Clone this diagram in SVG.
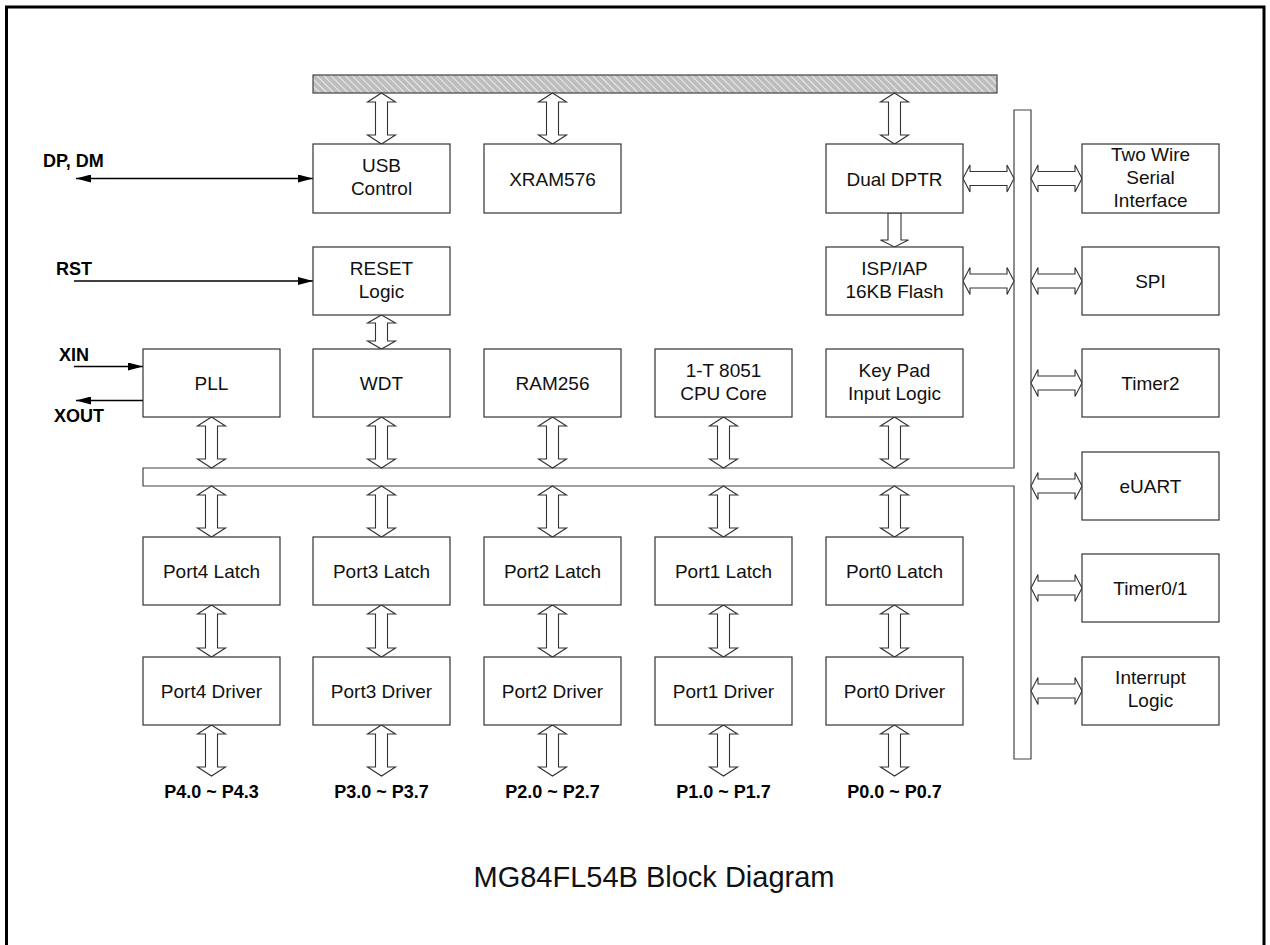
<svg xmlns="http://www.w3.org/2000/svg" width="1270" height="945" viewBox="0 0 1270 945">
<defs>
<style>
.box{fill:#fff;stroke:#333;stroke-width:1.2}
.t{font-family:"Liberation Sans",Arial,sans-serif;font-size:19px;fill:#111;text-anchor:middle}
.b{font-family:"Liberation Sans",Arial,sans-serif;font-size:18px;font-weight:bold;fill:#000}
.bc{text-anchor:middle}
.ba{fill:#fff;stroke:#333;stroke-width:1.1;stroke-linejoin:miter}
.sig{stroke:#000;stroke-width:1.7;fill:none}
.bus{fill:#fff;stroke:#444;stroke-width:1.2}
</style>
<pattern id="hatch" patternUnits="userSpaceOnUse" width="5" height="5" patternTransform="rotate(-45)">
<rect width="5" height="5" fill="#bdbdbd"/>
<line x1="0" y1="0" x2="0" y2="5" stroke="#ececec" stroke-width="2"/>
</pattern>
<marker id="ah" viewBox="0 0 15 8" refX="15" refY="4" markerWidth="15" markerHeight="8" markerUnits="userSpaceOnUse" orient="auto-start-reverse">
<path d="M0,0 L15,4 L0,8 Z" fill="#000"/>
</marker>
</defs>
<rect width="1270" height="945" fill="#fff"/>
<rect x="6.5" y="7" width="1257.5" height="1000" fill="none" stroke="#000" stroke-width="3"/>

<g id="buses">
<rect id="topbus" x="313" y="75" width="684" height="18" fill="url(#hatch)" stroke="#444" stroke-width="1.2"/>
<path id="midbus" class="bus" d="M1014,110 H1031 V759 H1014 V486 H143 V468 H1014 Z"/>
</g>

<g id="connectors">
<!-- signal lines -->
<line class="sig" x1="76" y1="178.5" x2="313" y2="178.5" marker-start="url(#ah)" marker-end="url(#ah)"/>
<line class="sig" x1="74" y1="281" x2="313" y2="281" marker-end="url(#ah)"/>
<line class="sig" x1="74" y1="366.5" x2="143" y2="366.5" marker-end="url(#ah)"/>
<line class="sig" x1="143" y1="400.5" x2="76" y2="400.5" marker-end="url(#ah)"/>
<!-- top bus to row1 -->
<polygon class="ba" points="381.5,93 395.5,102 387.5,102 387.5,135 395.5,135 381.5,144 367.5,135 375.5,135 375.5,102 367.5,102"/>
<polygon class="ba" points="552.5,93 566.5,102 558.5,102 558.5,135 566.5,135 552.5,144 538.5,135 546.5,135 546.5,102 538.5,102"/>
<polygon class="ba" points="894.5,93 908.5,102 900.5,102 900.5,135 908.5,135 894.5,144 880.5,135 888.5,135 888.5,102 880.5,102"/>
<!-- DPTR to ISP -->
<polygon class="ba" points="888,213 901,213 901,240 908.5,240 894.5,247 880.5,240 888,240"/>
<!-- RESET to WDT -->
<polygon class="ba" points="381.5,315 395.5,323 387.5,323 387.5,341 395.5,341 381.5,349 367.5,341 375.5,341 375.5,323 367.5,323"/>
<!-- row3 to mid bus -->
<polygon class="ba" points="211.5,417 225.5,426 217.5,426 217.5,459 225.5,459 211.5,468 197.5,459 205.5,459 205.5,426 197.5,426"/>
<polygon class="ba" points="381.5,417 395.5,426 387.5,426 387.5,459 395.5,459 381.5,468 367.5,459 375.5,459 375.5,426 367.5,426"/>
<polygon class="ba" points="552.5,417 566.5,426 558.5,426 558.5,459 566.5,459 552.5,468 538.5,459 546.5,459 546.5,426 538.5,426"/>
<polygon class="ba" points="723.5,417 737.5,426 729.5,426 729.5,459 737.5,459 723.5,468 709.5,459 717.5,459 717.5,426 709.5,426"/>
<polygon class="ba" points="894.5,417 908.5,426 900.5,426 900.5,459 908.5,459 894.5,468 880.5,459 888.5,459 888.5,426 880.5,426"/>
<!-- mid bus to latches -->
<polygon class="ba" points="211.5,486 225.5,495 217.5,495 217.5,528 225.5,528 211.5,537 197.5,528 205.5,528 205.5,495 197.5,495"/>
<polygon class="ba" points="381.5,486 395.5,495 387.5,495 387.5,528 395.5,528 381.5,537 367.5,528 375.5,528 375.5,495 367.5,495"/>
<polygon class="ba" points="552.5,486 566.5,495 558.5,495 558.5,528 566.5,528 552.5,537 538.5,528 546.5,528 546.5,495 538.5,495"/>
<polygon class="ba" points="723.5,486 737.5,495 729.5,495 729.5,528 737.5,528 723.5,537 709.5,528 717.5,528 717.5,495 709.5,495"/>
<polygon class="ba" points="894.5,486 908.5,495 900.5,495 900.5,528 908.5,528 894.5,537 880.5,528 888.5,528 888.5,495 880.5,495"/>
<!-- latches to drivers -->
<polygon class="ba" points="211.5,605 225.5,614 217.5,614 217.5,648 225.5,648 211.5,657 197.5,648 205.5,648 205.5,614 197.5,614"/>
<polygon class="ba" points="381.5,605 395.5,614 387.5,614 387.5,648 395.5,648 381.5,657 367.5,648 375.5,648 375.5,614 367.5,614"/>
<polygon class="ba" points="552.5,605 566.5,614 558.5,614 558.5,648 566.5,648 552.5,657 538.5,648 546.5,648 546.5,614 538.5,614"/>
<polygon class="ba" points="723.5,605 737.5,614 729.5,614 729.5,648 737.5,648 723.5,657 709.5,648 717.5,648 717.5,614 709.5,614"/>
<polygon class="ba" points="894.5,605 908.5,614 900.5,614 900.5,648 908.5,648 894.5,657 880.5,648 888.5,648 888.5,614 880.5,614"/>
<!-- drivers to pins -->
<polygon class="ba" points="211.5,725 225.5,734 217.5,734 217.5,767 225.5,767 211.5,776 197.5,767 205.5,767 205.5,734 197.5,734"/>
<polygon class="ba" points="381.5,725 395.5,734 387.5,734 387.5,767 395.5,767 381.5,776 367.5,767 375.5,767 375.5,734 367.5,734"/>
<polygon class="ba" points="552.5,725 566.5,734 558.5,734 558.5,767 566.5,767 552.5,776 538.5,767 546.5,767 546.5,734 538.5,734"/>
<polygon class="ba" points="723.5,725 737.5,734 729.5,734 729.5,767 737.5,767 723.5,776 709.5,767 717.5,767 717.5,734 709.5,734"/>
<polygon class="ba" points="894.5,725 908.5,734 900.5,734 900.5,767 908.5,767 894.5,776 880.5,767 888.5,767 888.5,734 880.5,734"/>
<!-- horizontal: left boxes to vertical bus -->
<polygon class="ba" points="963,178.5 970,165 970,171.5 1007,171.5 1007,165 1014,178.5 1007,192 1007,185.5 970,185.5 970,192"/>
<polygon class="ba" points="963,281 970,267.5 970,274 1007,274 1007,267.5 1014,281 1007,294.5 1007,288 970,288 970,294.5"/>
<!-- horizontal: vertical bus to right boxes -->
<polygon class="ba" points="1031,178.5 1038,165 1038,171.5 1075,171.5 1075,165 1082,178.5 1075,192 1075,185.5 1038,185.5 1038,192"/>
<polygon class="ba" points="1031,281 1038,267.5 1038,274 1075,274 1075,267.5 1082,281 1075,294.5 1075,288 1038,288 1038,294.5"/>
<polygon class="ba" points="1031,383 1038,369.5 1038,376 1075,376 1075,369.5 1082,383 1075,396.5 1075,390 1038,390 1038,396.5"/>
<polygon class="ba" points="1031,486 1038,472.5 1038,479 1075,479 1075,472.5 1082,486 1075,499.5 1075,493 1038,493 1038,499.5"/>
<polygon class="ba" points="1031,588 1038,574.5 1038,581 1075,581 1075,574.5 1082,588 1075,601.5 1075,595 1038,595 1038,601.5"/>
<polygon class="ba" points="1031,691 1038,677.5 1038,684 1075,684 1075,677.5 1082,691 1075,704.5 1075,698 1038,698 1038,704.5"/>
</g>

<g id="usb"><rect class="box" x="313" y="144" width="137" height="69"/><text class="t" x="381.5" y="172">USB</text><text class="t" x="381.5" y="195">Control</text></g>
<g id="xram"><rect class="box" x="484" y="144" width="137" height="69"/><text class="t" x="552.5" y="185.5">XRAM576</text></g>
<g id="dptr"><rect class="box" x="826" y="144" width="137" height="69"/><text class="t" x="894.5" y="185.5">Dual DPTR</text></g>
<g id="twsi"><rect class="box" x="1082" y="144" width="137" height="69"/><text class="t" x="1150.5" y="161">Two Wire</text><text class="t" x="1150.5" y="184">Serial</text><text class="t" x="1150.5" y="207">Interface</text></g>

<g id="reset"><rect class="box" x="313" y="247" width="137" height="68"/><text class="t" x="381.5" y="275">RESET</text><text class="t" x="381.5" y="298">Logic</text></g>
<g id="isp"><rect class="box" x="826" y="247" width="137" height="68"/><text class="t" x="894.5" y="275">ISP/IAP</text><text class="t" x="894.5" y="298">16KB Flash</text></g>
<g id="spi"><rect class="box" x="1082" y="247" width="137" height="68"/><text class="t" x="1150.5" y="288">SPI</text></g>

<g id="pll"><rect class="box" x="143" y="349" width="137" height="68"/><text class="t" x="211.5" y="390">PLL</text></g>
<g id="wdt"><rect class="box" x="313" y="349" width="137" height="68"/><text class="t" x="381.5" y="390">WDT</text></g>
<g id="ram256"><rect class="box" x="484" y="349" width="137" height="68"/><text class="t" x="552.5" y="390">RAM256</text></g>
<g id="cpu"><rect class="box" x="655" y="349" width="137" height="68"/><text class="t" x="723.5" y="377">1-T 8051</text><text class="t" x="723.5" y="400">CPU Core</text></g>
<g id="keypad"><rect class="box" x="826" y="349" width="137" height="68"/><text class="t" x="894.5" y="377">Key Pad</text><text class="t" x="894.5" y="400">Input Logic</text></g>
<g id="timer2"><rect class="box" x="1082" y="349" width="137" height="68"/><text class="t" x="1150.5" y="390">Timer2</text></g>

<g id="euart"><rect class="box" x="1082" y="452" width="137" height="68"/><text class="t" x="1150.5" y="493">eUART</text></g>

<g id="p4latch"><rect class="box" x="143" y="537" width="137" height="68"/><text class="t" x="211.5" y="578">Port4 Latch</text></g>
<g id="p3latch"><rect class="box" x="313" y="537" width="137" height="68"/><text class="t" x="381.5" y="578">Port3 Latch</text></g>
<g id="p2latch"><rect class="box" x="484" y="537" width="137" height="68"/><text class="t" x="552.5" y="578">Port2 Latch</text></g>
<g id="p1latch"><rect class="box" x="655" y="537" width="137" height="68"/><text class="t" x="723.5" y="578">Port1 Latch</text></g>
<g id="p0latch"><rect class="box" x="826" y="537" width="137" height="68"/><text class="t" x="894.5" y="578">Port0 Latch</text></g>
<g id="timer01"><rect class="box" x="1082" y="554" width="137" height="68"/><text class="t" x="1150.5" y="595">Timer0/1</text></g>

<g id="p4drv"><rect class="box" x="143" y="657" width="137" height="68"/><text class="t" x="211.5" y="698">Port4 Driver</text></g>
<g id="p3drv"><rect class="box" x="313" y="657" width="137" height="68"/><text class="t" x="381.5" y="698">Port3 Driver</text></g>
<g id="p2drv"><rect class="box" x="484" y="657" width="137" height="68"/><text class="t" x="552.5" y="698">Port2 Driver</text></g>
<g id="p1drv"><rect class="box" x="655" y="657" width="137" height="68"/><text class="t" x="723.5" y="698">Port1 Driver</text></g>
<g id="p0drv"><rect class="box" x="826" y="657" width="137" height="68"/><text class="t" x="894.5" y="698">Port0 Driver</text></g>
<g id="intr"><rect class="box" x="1082" y="657" width="137" height="68"/><text class="t" x="1150.5" y="684">Interrupt</text><text class="t" x="1150.5" y="707">Logic</text></g>

<g id="labels">
<text class="b" x="43" y="167">DP, DM</text>
<text class="b" x="56" y="275">RST</text>
<text class="b" x="59" y="361">XIN</text>
<text class="b" x="54" y="422">XOUT</text>
<text class="b bc" x="211.5" y="798">P4.0 ~ P4.3</text>
<text class="b bc" x="381.5" y="798">P3.0 ~ P3.7</text>
<text class="b bc" x="552.5" y="798">P2.0 ~ P2.7</text>
<text class="b bc" x="723.5" y="798">P1.0 ~ P1.7</text>
<text class="b bc" x="894.5" y="798">P0.0 ~ P0.7</text>
<text x="654" y="887" font-family="'Liberation Sans',Arial,sans-serif" font-size="29" text-anchor="middle" fill="#111">MG84FL54B Block Diagram</text>
</g>
</svg>
